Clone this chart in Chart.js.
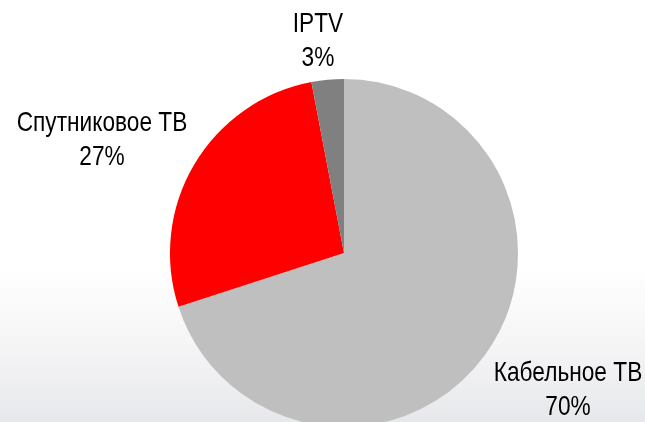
<!DOCTYPE html>
<html lang="ru">
<head>
<meta charset="utf-8">
<script src="https://cdn.jsdelivr.net/npm/chart.js@4/dist/chart.umd.min.js"></script>
<style>
	html, body { margin: 0; padding: 0; width: 645px; height: 422px; overflow: hidden; }
	body { background: linear-gradient(to bottom, #ffffff 0%, #ffffff 63%, #f6f6f7 80%, #e7e8eb 100%); }
	#wrap { position: absolute; left: 0; top: 0; width: 645px; height: 440px; }
</style>
</head>
<body>
<div id="wrap"><canvas id="grafico" width="645" height="440"></canvas></div>
<script>
const categorias = ['Кабельное ТВ', 'Спутниковое ТВ', 'IPTV'];
const valores = [70, 27, 3];
const cores = ['#bfbfbf', '#ff0000', '#808080'];

// where each two-line label sits, relative to the pie centre
const posRotulos = [
	{ dx: 224, dy: 137 },
	{ dx: -242, dy: -113 },
	{ dx: -26, dy: -212 }
];

// narrow font look: Liberation Sans squeezed sideways
const larguraFonte = 0.81;

const rotulosPlugin = {
	id: 'rotulos',
	afterDatasetsDraw(chart) {
		const ctx = chart.ctx;
		const arcos = chart.getDatasetMeta(0).data;
		ctx.save();
		ctx.fillStyle = '#000000';
		ctx.font = '28px "Liberation Sans", Arial, sans-serif';
		ctx.textAlign = 'center';
		ctx.textBaseline = 'middle';
		arcos.forEach((arco, i) => {
			const x = arco.x + posRotulos[i].dx;
			const y = arco.y + posRotulos[i].dy;
			ctx.save();
			ctx.translate(x, y);
			ctx.scale(larguraFonte, 1);
			ctx.fillText(categorias[i], 0, -17);
			ctx.fillText(valores[i] + '%', 0, 17.5);
			ctx.restore();
		});
		ctx.restore();
	}
};

const ctxGrafico = document.getElementById('grafico').getContext('2d');
new Chart(ctxGrafico, {
	type: 'pie',
	data: {
		labels: categorias,
		datasets: [{
			data: valores,
			backgroundColor: cores,
			borderWidth: 0
		}]
	},
	options: {
		responsive: false,
		devicePixelRatio: 1,
		animation: false,
		layout: { padding: { top: 79, bottom: 13, left: 170, right: 127 } },
		plugins: {
			legend: { display: false },
			tooltip: { enabled: false }
		}
	},
	plugins: [rotulosPlugin]
});
</script>
</body>
</html>
